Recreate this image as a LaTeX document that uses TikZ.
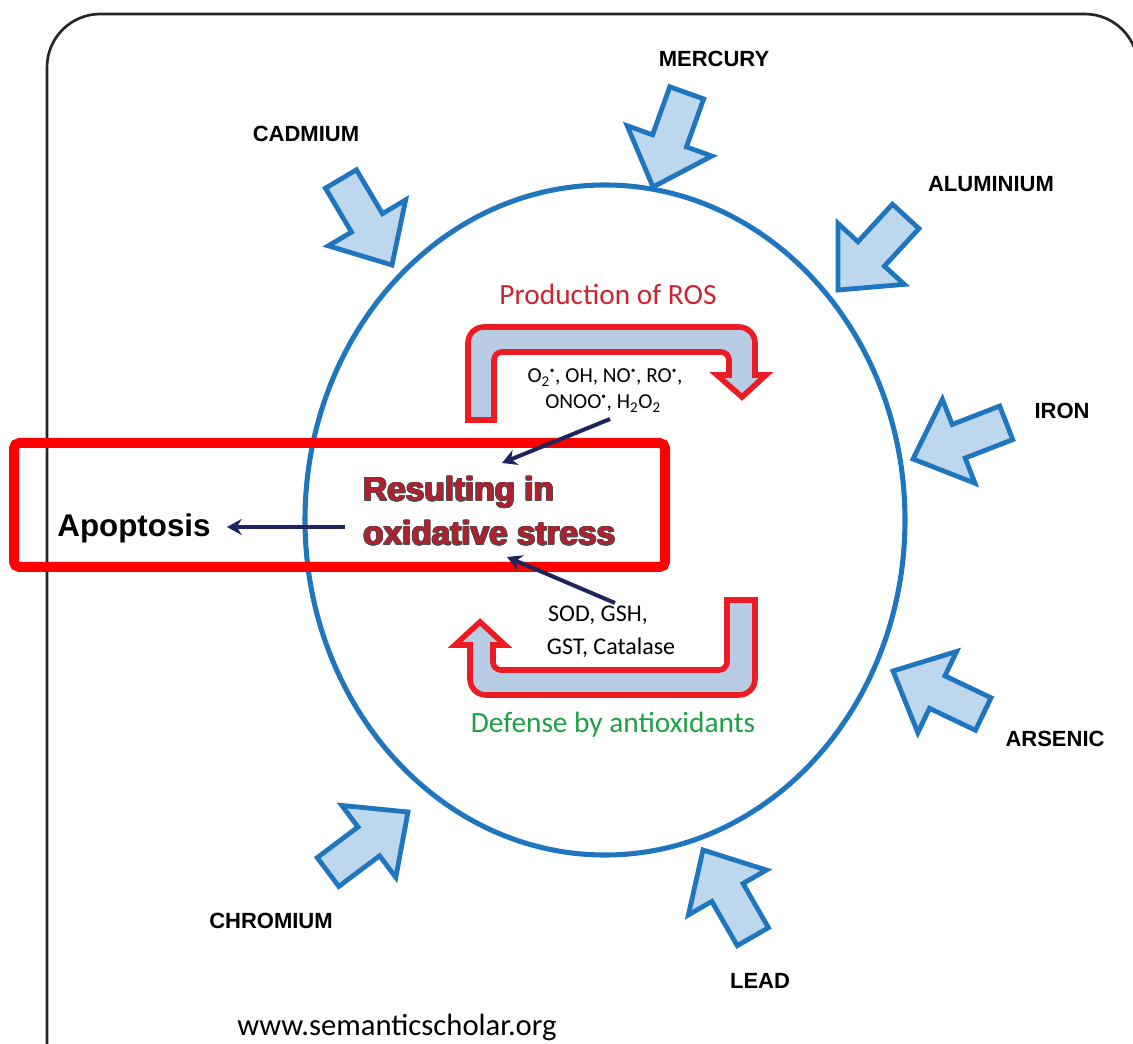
\documentclass[tikz,border=0pt]{standalone}
\usepackage{fontspec}
\usepackage{contour}
\contourlength{0.7pt}
\contournumber{16}
\setmainfont{Carlito}
\newfontfamily\lblfont{Liberation Sans}
\usetikzlibrary{arrows.meta}
\definecolor{ringblue}{RGB}{31,117,190}
\definecolor{metalfill}{RGB}{189,215,238}
\definecolor{rosred}{RGB}{237,28,36}
\definecolor{rosfill}{RGB}{184,204,228}
\definecolor{txtred}{RGB}{205,35,50}
\definecolor{stressred}{RGB}{180,30,45}
\definecolor{txtgreen}{RGB}{30,160,70}
\definecolor{navy}{RGB}{30,36,92}
\definecolor{boxred}{RGB}{255,0,0}
\tikzset{
  metal/.style={draw=ringblue,fill=metalfill,line width=3.6pt,line join=miter},
  metallabel/.style={font=\lblfont\bfseries\fontsize{16.5}{18}\selectfont,anchor=base,inner sep=0pt},
  rosarrow/.style={draw=rosred,fill=rosfill,line width=4.2pt,line join=miter},
  navyline/.style={draw=navy,line width=3pt,-{Stealth[length=11pt,width=12pt]}},
  chem/.style={font=\fontsize{16}{18}\selectfont,anchor=base,inner sep=0pt},
  stress/.style={font=\lblfont\bfseries\fontsize{25}{30}\selectfont,text=stressred,anchor=base west,inner sep=0pt},
}
\newcommand\rad{\textsuperscript{\raisebox{0.2ex}{\scriptsize•}}}
\newcommand\metalarrow[3]{%
  \begin{scope}[shift={(#1,#2)},rotate=#3]
    \draw[metal] (0,0) -- (-49,45) -- (-49,18) -- (-100,18) -- (-100,-18) -- (-49,-18) -- (-49,-45) -- cycle;
  \end{scope}}
\begin{document}
\begin{tikzpicture}[x=0.75pt,y=-0.75pt]
\useasboundingbox (0,0) rectangle (1133,1044);
\clip (0,0) rectangle (1133,1044);
\fill[white] (0,0) rectangle (1133,1044);
% frame
\draw[line width=2pt,color=black!85,rounded corners=40pt] (47,1080) -- (47,14) -- (1138,14) -- (1138,1080);
% cell ring
\draw[ringblue,line width=3.8pt] (605,520) ellipse [x radius=300, y radius=335];
% metal arrows
\metalarrow{392}{265}{-59.3}
\metalarrow{653}{187}{-109.7}
\metalarrow{838}{290}{-132.6}
\metalarrow{913}{459}{-158.8}
\metalarrow{893}{671}{154.5}
\metalarrow{703}{850}{119.9}
\metalarrow{408}{812}{36.9}
% metal labels
\node[metallabel] (mercury) at (714,67) {MERCURY};
\node[metallabel] (cadmium) at (306,142) {CADMIUM};
\node[metallabel] (aluminium) at (991,192) {ALUMINIUM};
\node[metallabel] (iron) at (1062,419) {IRON};
\node[metallabel] (arsenic) at (1055,747) {ARSENIC};
\node[metallabel] (lead) at (760,988) {LEAD};
\node[metallabel] (chromium) at (271,928) {CHROMIUM};
% ROS production arrow
\draw[rosarrow] (468,420)
  [rounded corners=12pt] -- (468,327) -- (755,327)
  [sharp corners] -- (755,375) -- (766,375) -- (742,397) -- (717,375) -- (729,375)
  [rounded corners=6pt] -- (729,352) -- (494,352)
  [sharp corners] -- (494,420) -- cycle;
% Defense arrow
\draw[rosarrow] (727,600) -- (755,600)
  [rounded corners=12pt] -- (755,695) -- (470,695)
  [sharp corners] -- (470,645) -- (455,645) -- (480,622) -- (505,645) -- (493,645)
  [rounded corners=6pt] -- (493,670) -- (727,670)
  [sharp corners] -- cycle;
% texts
\node[font=\fontsize{22}{24}\selectfont,text=txtred,anchor=base,inner sep=0pt] (prod) at (608,305) {Production of ROS};
\node[font=\fontsize{22}{24}\selectfont,text=txtgreen,anchor=base,inner sep=0pt] (def) at (613,733) {Defense by antioxidants};
\node[chem] (ros1) at (605,383) {O\textsubscript{2}\rad, OH, NO\rad, RO\rad,};
\node[chem] (ros2) at (603,409) {ONOO\rad, H\textsubscript{2}O\textsubscript{2}};
\node[chem,font=\fontsize{18}{20}\selectfont] (anti1) at (598,622) {SOD, GSH,};
\node[chem,font=\fontsize{18}{20}\selectfont] (anti2) at (611,655) {GST, Catalase};
% highlight box
\draw[boxred,line width=7.5pt,rounded corners=4pt] (14,443) rectangle (665,567);
\node[stress] (res1) at (363,501) {\contour{black!70}{Resulting in}};
\node[stress] (res2) at (363,545) {\contour{black!70}{oxidative stress}};
\node[font=\lblfont\bfseries\fontsize{23.5}{26}\selectfont,anchor=base,inner sep=0pt] (apop) at (134,537) {Apoptosis};
% navy connectors
\coordinate (c1) at (610,419);
\coordinate (t1) at (502,463);
\coordinate (c2) at (615,603);
\coordinate (t2) at (507,557);
\coordinate (c3) at (345,527);
\coordinate (t3) at (227,527);
\draw[navyline] (c1) -- (t1);
\draw[navyline] (c2) -- (t2);
\draw[navyline] (c3) -- (t3);
% source
\node[font=\fontsize{23}{25}\selectfont,anchor=base,inner sep=0pt] (src) at (397,1035) {www.semanticscholar.org};
\end{tikzpicture}
\end{document}
